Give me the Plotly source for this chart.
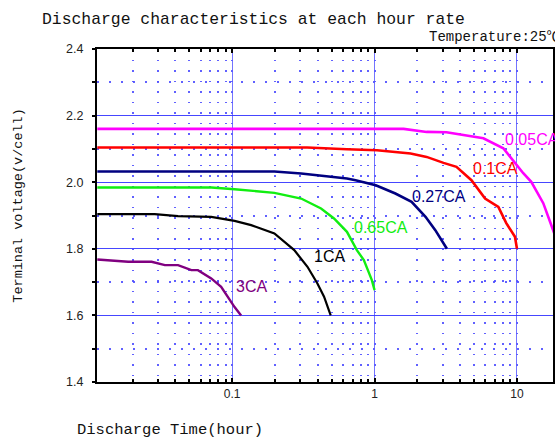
import plotly.graph_objects as go

# discharge time (hour) / terminal voltage (V/cell)
t_005 = [0.0113, 1.60, 2.32, 3.20, 5.81, 8.02, 11.07, 12.6, 15.3, 17.5, 18.5]
v_005 = [2.160, 2.160, 2.151, 2.150, 2.132, 2.102, 2.027, 2.001, 1.937, 1.870, 1.840]

t_01 = [0.0113, 0.336, 0.64, 1.04, 1.79, 2.32, 3.05, 3.76, 4.79, 5.97, 7.40, 8.41, 9.68, 10.0]
v_01 = [2.104, 2.104, 2.099, 2.096, 2.086, 2.076, 2.058, 2.046, 2.006, 1.951, 1.926, 1.877, 1.836, 1.800]

t_027 = [0.0113, 0.198, 0.305, 0.503, 0.64, 0.736, 1.02, 1.40, 1.82, 2.28, 2.67, 3.22]
v_027 = [2.032, 2.032, 2.026, 2.016, 2.011, 2.006, 1.991, 1.966, 1.941, 1.896, 1.856, 1.800]

t_065 = [0.0113, 0.0716, 0.104, 0.198, 0.305, 0.421, 0.519, 0.64, 0.751, 0.841, 0.957, 1.0]
v_065 = [1.984, 1.984, 1.979, 1.968, 1.951, 1.921, 1.891, 1.851, 1.796, 1.766, 1.706, 1.676]

t_1 = [0.0113, 0.0286, 0.0417, 0.0713, 0.104, 0.136, 0.198, 0.273, 0.338, 0.397, 0.442, 0.492]
v_1 = [1.904, 1.904, 1.898, 1.896, 1.884, 1.871, 1.846, 1.796, 1.746, 1.696, 1.656, 1.600]

t_3 = [0.0113, 0.0186, 0.0272, 0.0337, 0.0417, 0.0517, 0.0575, 0.0713, 0.0837, 0.0932, 0.104, 0.1156]
v_3 = [1.768, 1.761, 1.761, 1.751, 1.751, 1.736, 1.736, 1.711, 1.686, 1.656, 1.625, 1.600]

# label anchor (log10 of hours, volts)
label_names = ["0.05CA", "0.1CA", "0.27CA", "0.65CA", "1CA", "3CA"]
label_x = [0.904, 0.680, 0.252, -0.159, -0.438, -0.984]
label_y = [2.129, 2.042, 1.958, 1.865, 1.776, 1.686]

x_ticks = [0.1, 1, 10]
x_tick_text = ["0.1", "1", "10"]

series = [
    (t_005, v_005, "#ff00ff", 2.6),
    (t_01, v_01, "#ff0000", 2.6),
    (t_027, v_027, "#000080", 2.6),
    (t_065, v_065, "#11ee11", 2.4),
    (t_1, v_1, "#000000", 2.2),
    (t_3, v_3, "#800080", 2.4),
]

fig = go.Figure()
for (tx, vy, color, w), name in zip(series, label_names):
    fig.add_trace(go.Scatter(x=tx, y=vy, mode="lines", name=name,
                             line=dict(color=color, width=w), showlegend=False))

for (name, lx, ly, (_, _, color, _)) in zip(label_names, label_x, label_y, series):
    fig.add_annotation(x=lx, y=ly, text=name, showarrow=False, xanchor="left", yanchor="middle",
                       font=dict(family="Liberation Sans, Arial", size=16, color=color))

mono = "Liberation Mono, DejaVu Sans Mono, monospace"
W, H = 555, 441
L, T, B = 97, 49, 59
PW = W - L

fig.add_annotation(xref="paper", yref="paper", x=(18 - L) / PW, y=(381.7 - 205) / 333,
                   xanchor="center", yanchor="middle",
                   text="Terminal voltage(v/cell)", textangle=-90, showarrow=False,
                   font=dict(family=mono, size=13.5, color="#111"))
fig.add_annotation(xref="paper", yref="paper", x=(75 - L) / PW, y=-(430 - 381.7) / 333,
                   text="Discharge Time(hour)", showarrow=False, xanchor="left", yanchor="middle",
                   font=dict(family=mono, size=15.5, color="#111"))
fig.add_annotation(xref="paper", yref="paper", x=(428 - L) / PW, y=1 + (49 - 37) / 333,
                   text="Temperature:25℃", showarrow=False, xanchor="left", yanchor="middle",
                   font=dict(family="Liberation Mono, Noto Sans CJK SC", size=14, color="#111"))

fig.update_layout(
    width=W, height=H,
    margin=dict(l=L, r=0, t=T, b=B),
    paper_bgcolor="white", plot_bgcolor="white",
    title=dict(text="Discharge characteristics at each hour rate", xref="container", yref="container",
               x=42 / W, xanchor="left", y=1 - 18 / H, yanchor="middle",
               font=dict(family=mono, size=16.4, color="#111")),
)

fig.update_xaxes(
    type="log", range=[-1.949, 1.253],
    tickvals=x_ticks, ticktext=x_tick_text,
    showline=True, linecolor="black", linewidth=2, mirror="ticks",
    ticks="inside", ticklen=4, tickcolor="black", tickwidth=1.5,
    tickfont=dict(family="Liberation Sans, Arial", size=12, color="#222"),
    showgrid=True, gridcolor="rgba(90,90,255,0.85)", gridwidth=1.2,
    minor=dict(dtick="D1", ticks="inside", ticklen=3, tickcolor="black", tickwidth=1.5,
               showgrid=True, gridcolor="rgba(80,80,255,0.9)", gridwidth=1.5, griddash="1.5px,9px"),
    zeroline=False,
)
fig.update_yaxes(
    range=[1.4, 2.4], dtick=0.2, tickformat=".1f",
    showline=True, linecolor="black", linewidth=2, mirror=True,
    ticks="outside", ticklen=3, tickcolor="black", tickwidth=1.5,
    tickfont=dict(family="Liberation Sans, Arial", size=12.5, color="#222"),
    ticklabelstandoff=6,
    showgrid=True, gridcolor="rgba(50,50,255,0.9)", gridwidth=1.2,
    minor=dict(dtick=0.1, ticks="outside", ticklen=3, tickcolor="black", tickwidth=1.5,
               showgrid=True, gridcolor="rgba(80,80,255,0.9)", gridwidth=1.5, griddash="2px,10px"),
    zeroline=False,
)

# the page body has an 8px default margin; drop it so the figure sits at the corner
fig.write_html("out.html", config={"displayModeBar": False},
               post_script="document.body.style.margin='0';")
